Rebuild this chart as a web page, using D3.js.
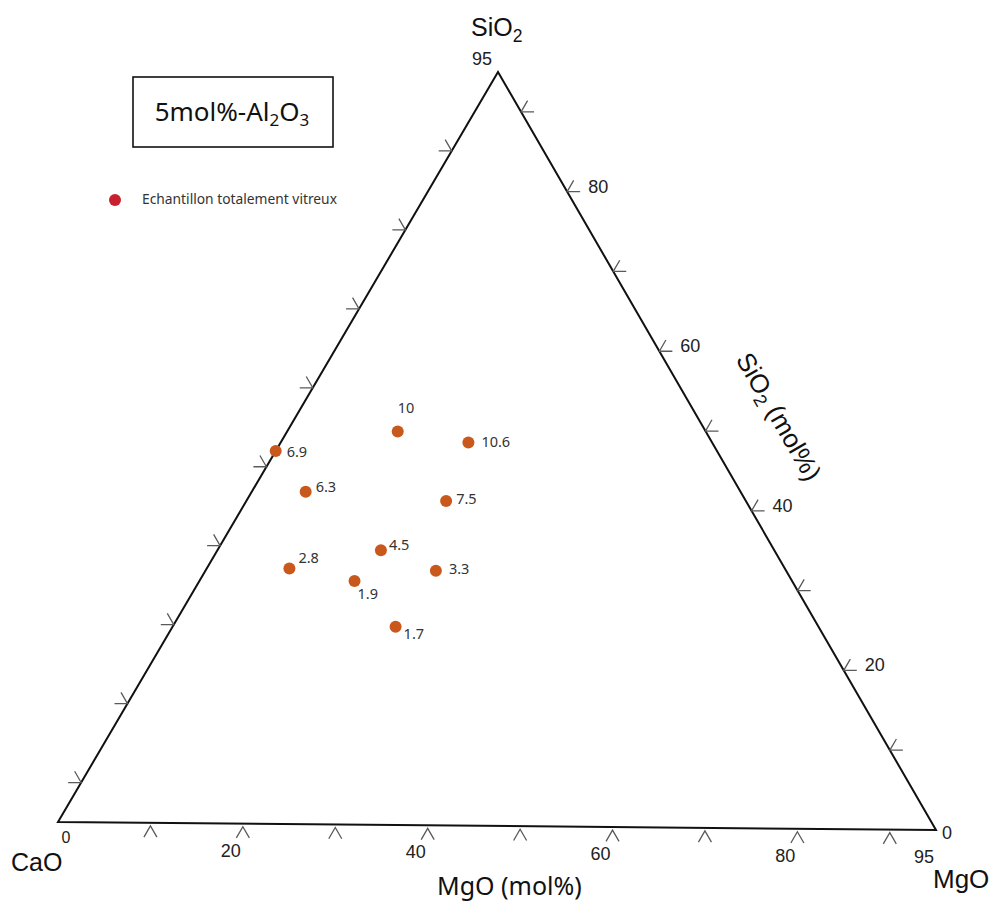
<!DOCTYPE html>
<html>
<head>
<meta charset="utf-8">
<script src="https://cdn.jsdelivr.net/npm/d3@7"></script>
<style>
  html, body { margin: 0; padding: 0; background: #ffffff; }
  svg { display: block; }
</style>
</head>
<body>
<script>
// ---- data (compositions in mol%, total 95 + 5 Al2O3) ----
const sampleLabels = ["10", "10.6", "6.9", "6.3", "7.5", "4.5", "2.8", "3.3", "1.9", "1.7"];
const sampleCaO    = [33.5, 26.5, 48.0, 47.3, 32.6, 42.8, 53.9, 38.1, 47.6, 46.0];
const sampleMgO    = [11.9, 20.2,  0.0,  5.8, 21.5, 17.6,  8.9, 24.8, 16.7, 24.0];
const sampleSiO2   = [49.6, 48.3, 47.0, 41.9, 40.9, 34.6, 32.2, 32.1, 30.7, 25.0];

const minorTicks = [10, 20, 30, 40, 50, 60, 70, 80, 90];
const mgoTickLabels = [0, 20, 40, 60, 80, 95];
const sio2TickLabels = [0, 20, 40, 60, 80, 95];
const axisMax = 95;

const titleText = "5mol%-Al";
const legendText = "Echantillon totalement vitreux";

// ---- layout ----
const W = 994, H = 902;
const vCaO = [58, 822], vMgO = [936, 830], vSiO2 = [498, 72];

const svg = d3.select("body").append("svg").attr("width", W).attr("height", H)
  .style("font-family", "'Liberation Sans', Arial, sans-serif");

const frac = d3.scaleLinear().domain([0, axisMax]).range([0, 1]);
function pos(cao, mgo, sio2) {
  const u = frac(mgo), v = frac(sio2);
  return [vCaO[0] + u * (vMgO[0] - vCaO[0]) + v * (vSiO2[0] - vCaO[0]),
          vCaO[1] + u * (vMgO[1] - vCaO[1]) + v * (vSiO2[1] - vCaO[1])];
}

// triangle
svg.append("path")
  .attr("d", d3.line()([pos(95,0,0), pos(0,95,0), pos(0,0,95)]) + "Z")
  .attr("fill", "none").attr("stroke", "#111").attr("stroke-width", 2)
  .attr("stroke-linejoin", "miter");

const tickLen = 13, c60 = 0.5, s60 = Math.sqrt(3) / 2;
const tickG = svg.append("g").attr("stroke", "#5a5a5a").attr("stroke-width", 1.3).attr("fill", "none");
function chevron(p, d1, d2, off) {
  const o = off || [0, 0];
  const a = [p[0] + o[0], p[1] + o[1]];
  tickG.append("path").attr("d", d3.line()([
    [a[0] + d1[0] * tickLen, a[1] + d1[1] * tickLen], a,
    [a[0] + d2[0] * tickLen, a[1] + d2[1] * tickLen]]));
}
// left (CaO) ticks
minorTicks.forEach(c => chevron(pos(c, 0, axisMax - c), [-1, 0], [-c60, -s60]));
// bottom (MgO) ticks
minorTicks.forEach(m => chevron(pos(axisMax - m, m, 0), [-c60, s60], [c60, s60], [0, 3]));
// right (SiO2) ticks
minorTicks.forEach(s => chevron(pos(0, axisMax - s, s), [1, 0], [c60, -s60]));

// tick labels
const tl = svg.append("g").attr("font-size", 18).attr("fill", "#222");
mgoTickLabels.forEach(m => {
  const p = pos(axisMax - m, m, 0);
  const t = tl.append("text").text(m).attr("text-anchor", "middle");
  if (m === 0) t.attr("x", p[0] + 8).attr("y", p[1] + 21).attr("font-size", 16);
  else t.attr("x", p[0] - 12).attr("y", p[1] + 33);
});
sio2TickLabels.forEach(s => {
  const p = pos(0, axisMax - s, s);
  const t = tl.append("text").text(s);
  if (s === 0) t.attr("x", p[0] + 6).attr("y", p[1] + 9);
  else if (s === axisMax) t.attr("x", p[0] - 26).attr("y", p[1] - 7);
  else t.attr("x", p[0] + 21).attr("y", p[1] + 1);
});

// vertex labels
function chem(g, x, y, parts, size) {
  const t = g.append("text").attr("x", x).attr("y", y).attr("font-size", size);
  parts.forEach(pt => {
    const ts = t.append("tspan").text(pt[0]);
    if (pt[1]) ts.attr("font-size", size * 0.7).attr("dy", size * 0.22);
  });
  return t;
}
const vl = svg.append("g").attr("fill", "#111");
const pS = pos(0, 0, axisMax), pC = pos(axisMax, 0, 0), pM = pos(0, axisMax, 0);
chem(vl, pS[0] - 27, pS[1] - 36, [["SiO"], ["2", true]], 25);
chem(vl, pC[0] - 47, pC[1] + 49, [["CaO"]], 25);
chem(vl, pM[0] - 3, pM[1] + 58, [["MgO"]], 26);

// axis titles
svg.append("text").attr("x", 437).attr("y", 895).attr("font-size", 25)
  .style("font-family", "'Noto Sans', 'Open Sans', sans-serif").attr("fill", "#111")
  .text("MgO (mol%)");
const angle = Math.atan2(pM[1] - pS[1], pM[0] - pS[0]) * 180 / Math.PI;
const mid = [(pS[0] + pM[0]) / 2, (pS[1] + pM[1]) / 2];
const rt = svg.append("g").attr("transform", `translate(${mid[0] + 54},${mid[1] - 30}) rotate(${angle})`);
const rtt = rt.append("text").attr("text-anchor", "middle").attr("font-size", 26).attr("fill", "#111");
rtt.append("tspan").text("SiO");
rtt.append("tspan").text("2").attr("font-size", 18).attr("dy", 5);
rtt.append("tspan").text(" (mol%)").attr("dy", -5);

// title box
const sans = "'Noto Sans', 'Open Sans', sans-serif";
svg.append("rect").attr("x", 133).attr("y", 77).attr("width", 200).attr("height", 70)
  .attr("fill", "none").attr("stroke", "#111").attr("stroke-width", 1.6);
const tt = svg.append("text").attr("x", 232).attr("y", 121).attr("text-anchor", "middle")
  .attr("font-size", 26).style("font-family", sans).attr("fill", "#111");
tt.append("tspan").text(titleText);
tt.append("tspan").text("2").attr("font-size", 17).attr("dy", 5);
tt.append("tspan").text("O").attr("dy", -5);
tt.append("tspan").text("3").attr("font-size", 17).attr("dy", 5);

// legend
svg.append("circle").attr("cx", 115).attr("cy", 200).attr("r", 6).attr("fill", "#c8202e");
svg.append("text").attr("x", 142).attr("y", 204).attr("font-size", 13.8)
  .style("font-family", sans).attr("fill", "#333").text(legendText);

// sample points
const samples = sampleLabels.map((l, i) => ({ label: l, c: sampleCaO[i], m: sampleMgO[i], s: sampleSiO2[i] }));
const labelOffset = {
  "10": [0, -18], "10.6": [13, 5], "6.9": [11, 6], "6.3": [10, 0], "7.5": [10, 3],
  "4.5": [8, 0], "2.8": [9, -6], "3.3": [13, 3], "1.9": [3, 18], "1.7": [8, 12]
};
const pg = svg.append("g");
pg.selectAll("circle").data(samples).join("circle")
  .attr("cx", d => pos(d.c, d.m, d.s)[0]).attr("cy", d => pos(d.c, d.m, d.s)[1])
  .attr("r", 6).attr("fill", "#c9581c");
pg.selectAll("text").data(samples).join("text")
  .attr("x", d => pos(d.c, d.m, d.s)[0] + labelOffset[d.label][0])
  .attr("y", d => pos(d.c, d.m, d.s)[1] + labelOffset[d.label][1])
  .attr("font-size", 14.5).style("font-family", sans).attr("fill", "#333")
  .text(d => d.label);
</script>
</body>
</html>
